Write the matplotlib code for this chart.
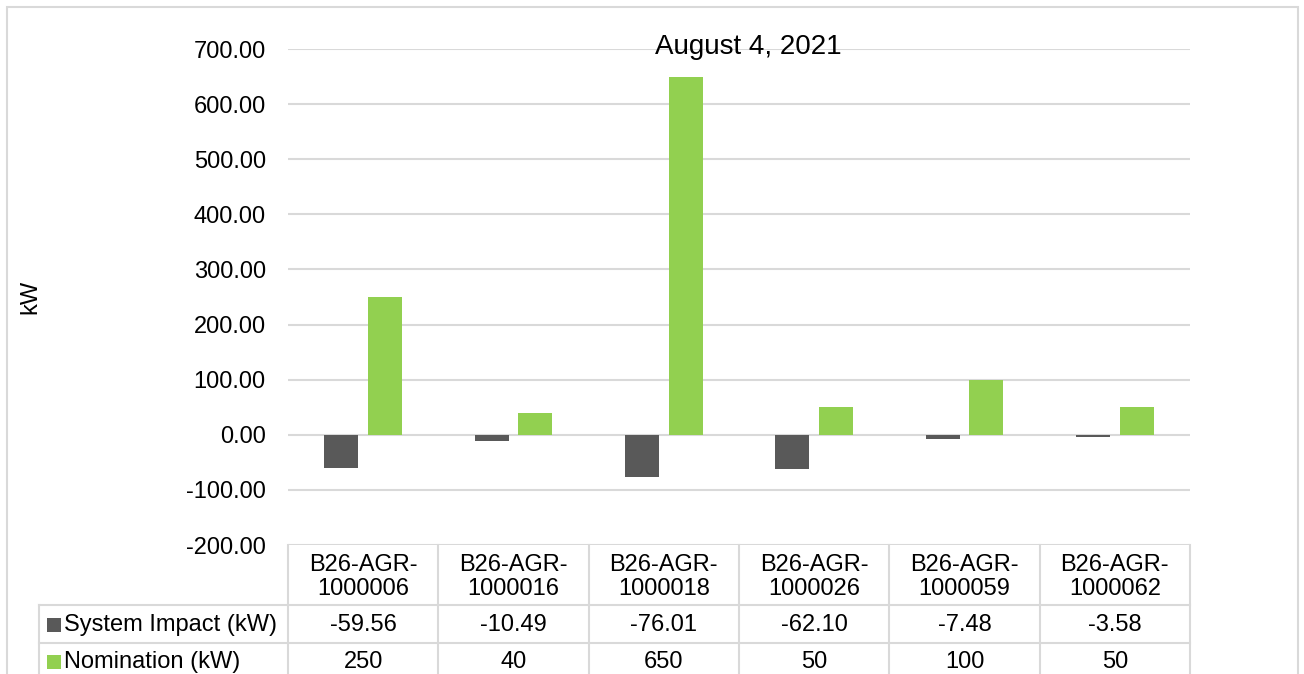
import numpy as np
import matplotlib
matplotlib.use('Agg')
import matplotlib.pyplot as plt
from matplotlib.patches import Rectangle
from matplotlib.lines import Line2D
import matplotlib.transforms as mtransforms

plt.rcParams['font.family'] = ['Liberation Sans', 'DejaVu Sans']

# data
sites = ['B26-AGR-\n1000006', 'B26-AGR-\n1000016', 'B26-AGR-\n1000018',
         'B26-AGR-\n1000026', 'B26-AGR-\n1000059', 'B26-AGR-\n1000062']
impact = [-59.56, -10.49, -76.01, -62.10, -7.48, -3.58]
nomination = [250, 40, 650, 50, 100, 50]
impact_labels = ['-59.56', '-10.49', '-76.01', '-62.10', '-7.48', '-3.58']
nomination_labels = ['250', '40', '650', '50', '100', '50']
yticks = [-200, -100, 0, 100, 200, 300, 400, 500, 600, 700]

dark = '#595959'
green = '#92d050'
grid_c = '#d9d9d9'
fs = 17

W, H = 1304, 674
fig = plt.figure(figsize=(W / 100, H / 100), dpi=100)

def fy(py):
    return 1 - py / H

def fx(px):
    return px / W

ax = fig.add_axes([fx(288), fy(545), fx(1190) - fx(288), fy(49) - fy(545)])

x = np.arange(len(sites))
bw = 0.225
ax.bar(x - 0.145, impact, bw, color=dark, zorder=3)
ax.bar(x + 0.145, nomination, bw, color=green, zorder=3)

ax.set_xlim(-0.5, len(sites) - 0.5)
ax.set_ylim(-200, 700)
ax.set_yticks(yticks)
ax.set_yticklabels([f'{v:.2f}' for v in yticks], fontsize=fs)
ax.set_xticks([])
ax.tick_params(axis='y', length=0, pad=16)
ax.yaxis.grid(True, color=grid_c, lw=1.5)
ax.set_axisbelow(True)
for s in ax.spines.values():
    s.set_visible(False)

fig.text(fx(748), fy(47), 'August 4, 2021', fontsize=20, ha='center', va='center')
fig.text(fx(30), fy(297), 'kW', rotation=90, fontsize=fs, ha='center', va='center')

# data table under the chart
tr = mtransforms.blended_transform_factory(ax.transData, fig.transFigure)
n = len(sites)
bottom = -0.05
for i in range(n + 1):
    fig.add_artist(Line2D([i - 0.5, i - 0.5], [fy(545), bottom], transform=tr, color=grid_c, lw=1.5))
fig.add_artist(Line2D([fx(39), fx(39)], [fy(605), bottom], transform=fig.transFigure, color=grid_c, lw=1.5))
for py in (605, 643):
    fig.add_artist(Line2D([fx(39), fx(1190)], [fy(py), fy(py)], transform=fig.transFigure, color=grid_c, lw=1.5))

for i in range(n):
    fig.text(i, fy(577), sites[i], transform=tr, ha='center', va='center',
             fontsize=fs, linespacing=1.15)
    fig.text(i, fy(625), impact_labels[i], transform=tr, ha='center', va='center', fontsize=fs)
    fig.text(i, fy(662), nomination_labels[i], transform=tr, ha='center', va='center', fontsize=fs)

for py, col, lab in ((625, dark, 'System Impact (kW)'), (662, green, 'Nomination (kW)')):
    fig.add_artist(Rectangle((fx(47), fy(py + 7)), fx(14), 14 / H, transform=fig.transFigure,
                             color=col, lw=0))
    fig.text(fx(64), fy(py), lab, ha='left', va='center', fontsize=fs)

# outer chart border
fig.add_artist(Rectangle((fx(7), -0.1), fx(1298) - fx(7), fy(7) + 0.1, transform=fig.transFigure,
                         fill=False, edgecolor=grid_c, lw=1.5))

fig.savefig('out.png', dpi=100)
